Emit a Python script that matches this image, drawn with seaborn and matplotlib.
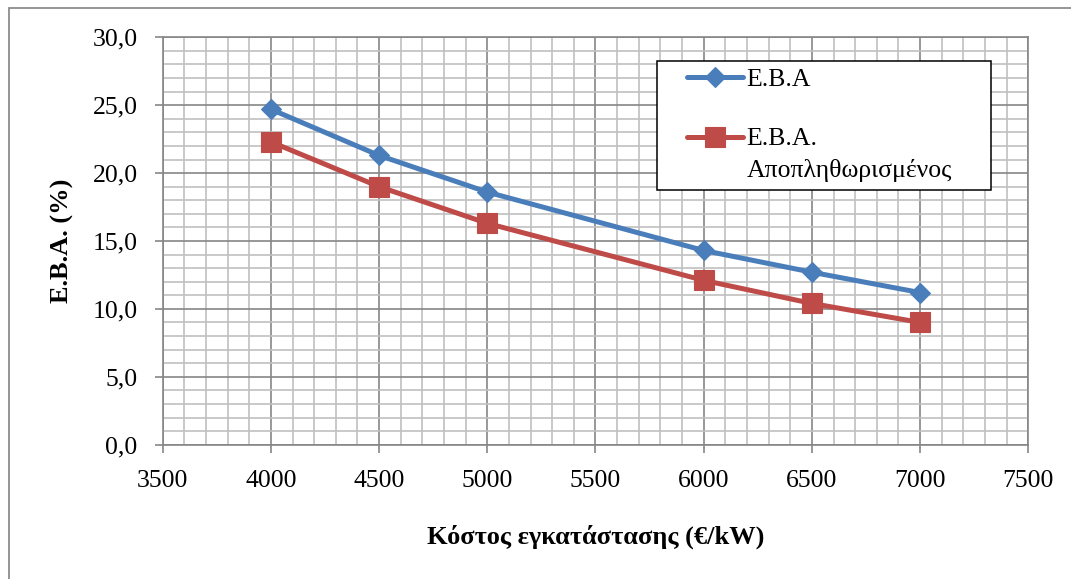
import numpy as np
import pandas as pd
import matplotlib
matplotlib.use("Agg")
import matplotlib.pyplot as plt
from matplotlib.lines import Line2D
from matplotlib.patches import Rectangle
from matplotlib.legend_handler import HandlerLine2D
from matplotlib.ticker import MultipleLocator, FuncFormatter
import seaborn as sns

# Installation cost (€/kW) and internal rate of return (%)
cost = [4000, 4500, 5000, 6000, 6500, 7000]
irr_nominal = [24.7, 21.3, 18.6, 14.3, 12.7, 11.2]
irr_real = [22.3, 19.0, 16.3, 12.1, 10.4, 9.0]
series_labels = ["E.B.A", "E.B.A.\nΑποπληθωρισμένος"]
x_label = "Κόστος εγκατάστασης (€/kW)"
y_label = "E.B.A. (%)"

df = pd.DataFrame({
    "cost": cost * 2,
    "irr": irr_nominal + irr_real,
    "series": [series_labels[0]] * len(cost) + [series_labels[1]] * len(cost),
})

sns.set_theme(style="white")
plt.rcParams["font.family"] = ["Liberation Serif", "DejaVu Serif"]

BLUE = "#4A7EBB"
RED = "#BE4B48"
MAJOR = "#868686"
MINOR = "#C0C0C0"
FS = 18.5

fig = plt.figure(figsize=(10.71, 5.79), dpi=100)
fig.patch.set_facecolor("white")
ax = fig.add_axes([0.1519, 0.2320, 0.8082, 0.7036])

styles = {
    series_labels[0]: dict(color=BLUE, marker="D", markersize=10),
    series_labels[1]: dict(color=RED, marker="s", markersize=14),
}
for name, st in styles.items():
    sub = df[df["series"] == name]
    sns.lineplot(data=sub, x="cost", y="irr", ax=ax, label=name,
                 color=st["color"], marker=st["marker"],
                 markersize=st["markersize"], markeredgecolor=st["color"],
                 markeredgewidth=0.8, linewidth=3.6, zorder=5)

ax.set_xlim(3500, 7500)
ax.set_ylim(0, 30)
ax.xaxis.set_major_locator(MultipleLocator(500))
ax.xaxis.set_minor_locator(MultipleLocator(100))
ax.yaxis.set_major_locator(MultipleLocator(5))
ax.yaxis.set_minor_locator(MultipleLocator(1))
ax.yaxis.set_major_formatter(FuncFormatter(lambda v, _: f"{v:.1f}".replace(".", ",")))
ax.xaxis.set_major_formatter(FuncFormatter(lambda v, _: f"{int(v)}"))

ax.grid(which="minor", color=MINOR, linewidth=1.2, zorder=0)
ax.grid(which="major", color=MAJOR, linewidth=1.2, zorder=1)
ax.set_axisbelow(True)
for sp in ax.spines.values():
    sp.set_color(MAJOR)
    sp.set_linewidth(1.2)

ax.tick_params(which="major", direction="out", length=6, width=1.2, color=MAJOR,
               labelsize=FS, labelcolor="black", pad=12,
               left=True, bottom=True)
ax.tick_params(which="minor", length=0)

ax.set_xlabel(x_label, fontsize=19, fontweight="bold", color="black")
ax.set_ylabel(y_label, fontsize=19, fontweight="bold", color="black")
ax.xaxis.set_label_coords(0.5, -0.195)
ax.yaxis.set_label_coords(-0.1025, 0.5)


class ShiftedLineHandler(HandlerLine2D):
    """Legend line drawn at a chosen offset inside the handle box."""

    def __init__(self, x0, length, dy, **kw):
        super().__init__(**kw)
        self.x0, self.length, self.dy = x0, length, dy

    def create_artists(self, legend, orig_handle, xdescent, ydescent,
                       width, height, fontsize, trans):
        xs = np.array([self.x0, self.x0 + self.length / 2, self.x0 + self.length]) - xdescent
        ys = np.full(3, (height - ydescent) / 2 + self.dy)
        line = Line2D(xs, ys)
        self.update_prop(line, orig_handle, legend)
        line.set_markevery([1])
        line.set_transform(trans)
        return [line]


handles, labels = ax.get_legend_handles_labels()
leg = ax.legend(handles, labels, loc="upper left",
                bbox_to_anchor=(0.5710, 0.6418, 0.3859, 0.3), mode="expand",
                borderaxespad=0, borderpad=0.29, labelspacing=1.44,
                handlelength=3.05, handletextpad=0.15,
                fancybox=False, framealpha=1, edgecolor="black",
                prop={"size": FS},
                handler_map={handles[0]: ShiftedLineHandler(16.2, 40.3, 0),
                             handles[1]: ShiftedLineHandler(16.2, 40.3, 13.2)})
leg.get_frame().set_linewidth(1.1)
leg.set_zorder(10)
for t in leg.get_texts():
    t.set_linespacing(1.49)
    t.set_color("black")

# outer chart-area border
fig.add_artist(Rectangle((8.5 / 1071, -0.5), 2, (1 - 7.5 / 579) + 0.5,
                         transform=fig.transFigure, fill=False,
                         edgecolor="#8C8C8C", linewidth=1.3))

fig.savefig("out.png", dpi=100, facecolor="white")
